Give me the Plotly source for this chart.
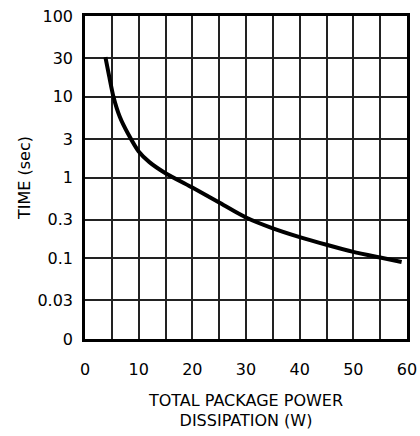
import plotly.graph_objects as go

# total package power dissipation (W) vs time (sec)
power_w = [3.8, 4.5, 5.3, 6.5, 8, 10, 12, 15, 20, 25, 30, 35, 40, 45, 50, 55, 59]
time_s = [31, 18, 10, 5.6, 3.5, 2.1, 1.55, 1.13, 0.75, 0.49, 0.32, 0.235, 0.183, 0.147, 0.12, 0.102, 0.09]

y_tickvals = [0.01, 0.03, 0.1, 0.3, 1, 3, 10, 30, 100]
y_ticktext = ["0", "0.03", "0.1", "0.3", "1", "3", "10", "30", "100"]
x_tickvals = [0, 10, 20, 30, 40, 50, 60]

fig = go.Figure()
fig.add_trace(go.Scatter(
    x=power_w, y=time_s, mode="lines",
    line=dict(color="black", width=4, shape="spline", smoothing=0.6),
    showlegend=False, hoverinfo="skip",
))

fig.update_xaxes(
    range=[0, 60], tickvals=x_tickvals, ticks="", ticklabelstandoff=14,
    tickfont=dict(size=16),
    showgrid=True, gridcolor="#222", gridwidth=1.5,
    minor=dict(dtick=5, showgrid=True, gridcolor="#222", gridwidth=1.5),
    showline=True, linecolor="black", linewidth=2.5, mirror=True,
    zeroline=False, automargin=False,
    title=dict(text="TOTAL PACKAGE POWER<br>DISSIPATION (W)", standoff=17,
               font=dict(size=16)),
)
fig.update_yaxes(
    type="log", range=[-2, 2], tickvals=y_tickvals, ticktext=y_ticktext,
    ticks="", ticklabelstandoff=6, tickfont=dict(size=16),
    showgrid=True, gridcolor="#222", gridwidth=1.5,
    showline=True, linecolor="black", linewidth=2.5, mirror=True,
    zeroline=False, automargin=False,
    title=dict(text="TIME (sec)", standoff=3, font=dict(size=16)),
)
fig.update_layout(
    width=420, height=436,
    margin=dict(l=85, r=13, t=16, b=97),
    plot_bgcolor="white", paper_bgcolor="white",
    font=dict(family="DejaVu Sans", size=16, color="black"),
)

# drop the default page margin so the figure sits at the window corner
fig.write_html("out.html", config={"displayModeBar": False},
               post_script="document.body.style.margin='0';")
